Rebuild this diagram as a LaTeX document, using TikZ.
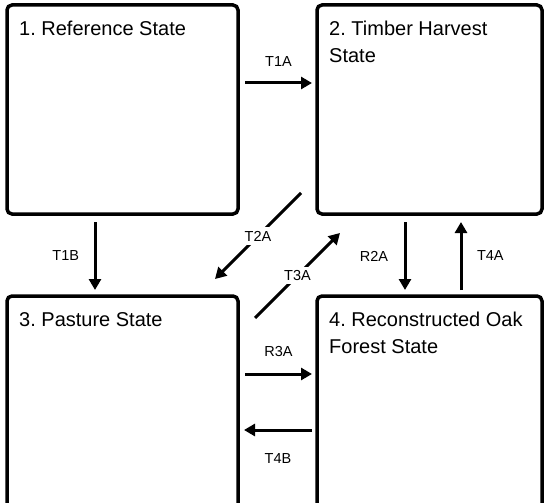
\documentclass[tikz,border=0pt]{standalone}
\usepackage{fontspec}
\setmainfont{Liberation Sans}
\usetikzlibrary{arrows.meta}
\frenchspacing
\begin{document}
\begin{tikzpicture}[x=1pt, y=-1pt, >={Triangle[length=11pt,width=12pt]},
    statebox/.style={draw, line width=3.5pt, rounded corners=5pt, outer sep=0pt, inner sep=0pt},
    title/.style={anchor=north west, inner sep=0pt, align=left, font=\fontsize{20}{26.5}\selectfont},
    arr/.style={->, line width=3pt},
    lbl/.style={fill=white, inner sep=3.5pt, font=\fontsize{14.5}{17}\selectfont}]
    \useasboundingbox (0,0) rectangle (544,503);
    \clip (0,0) rectangle (544,503);
    % the four states
    \node[statebox, minimum width=231pt, minimum height=209pt] (s1) at (122.5,109.5) {};
    \node[statebox, minimum width=225pt, minimum height=209pt] (s2) at (429.5,109.5) {};
    \node[statebox, minimum width=231pt, minimum height=224pt] (s3) at (122.5,408) {};
    \node[statebox, minimum width=225pt, minimum height=224pt] (s4) at (429.5,408) {};
    \node[title] (n1) at ([shift={(12,16)}]s1.north west) {1. Reference State};
    \node[title] (n2) at ([shift={(12,16)}]s2.north west) {2. Timber Harvest\\State};
    \node[title] (n3) at ([shift={(12,16)}]s3.north west) {3. Pasture State};
    \node[title] (n4) at ([shift={(12,16)}]s4.north west) {4. Reconstructed Oak\\Forest State};
    % transitions
    \draw[arr] ([shift={(7,78)}]s1.north east) -- ([shift={(-5,78)}]s2.north west) node[lbl, midway, above=11.5pt] (l1a) {T1A};
    \draw[arr] ([shift={(88,8)}]s1.south west) -- ([shift={(88,-6)}]s3.north west) node[lbl, midway, left=11pt] (l1b) {T1B};
    \draw[arr] ([shift={(-16,-21)}]s2.south west) -- ([shift={(-23,-17)}]s3.north east) node[lbl, midway] (l2a) {T2A};
    \draw[arr] ([shift={(17,22)}]s3.north east) -- ([shift={(23,19)}]s2.south west) node[lbl, midway] (l3a) {T3A};
    \draw[arr] ([shift={(88,8)}]s2.south west) -- ([shift={(88,-6)}]s4.north west) node[lbl, midway, left=12pt] (r2a) {R2A};
    \draw[arr] ([shift={(144,-6)}]s4.north west) -- ([shift={(144,8)}]s2.south west) node[lbl, midway, right=11pt] (l4a) {T4A};
    \draw[arr] ([shift={(7,78)}]s3.north east) -- ([shift={(-5,78)}]s4.north west) node[lbl, midway, above=12.5pt] (r3a) {R3A};
    \draw[arr] ([shift={(-5,134)}]s4.north west) -- ([shift={(6,134)}]s3.north east) node[lbl, midway, below=18.5pt] (l4b) {T4B};
\end{tikzpicture}
\end{document}
